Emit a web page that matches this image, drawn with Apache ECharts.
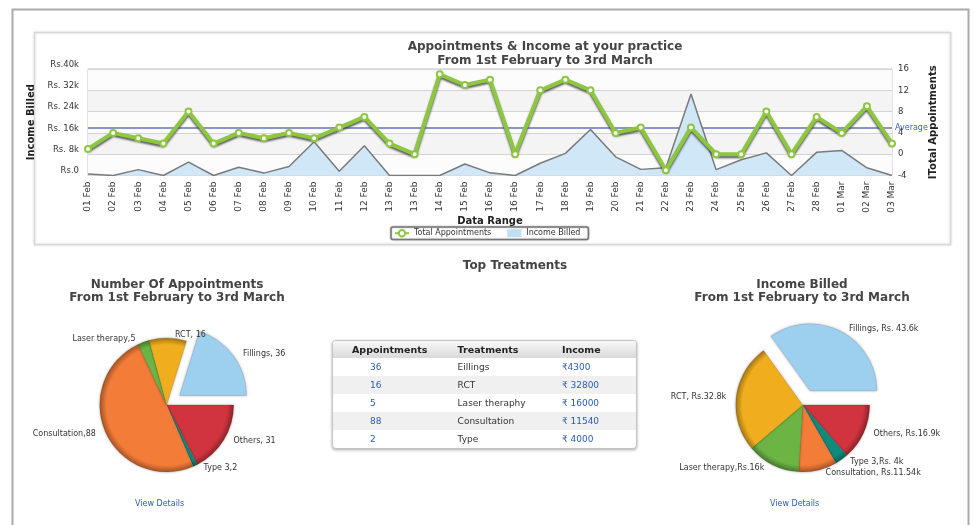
<!DOCTYPE html>
<html>
<head>
<meta charset="utf-8">
<script src="https://cdn.jsdelivr.net/npm/echarts@6/dist/echarts.min.js"></script>
<style>
html,body{margin:0;padding:0;background:#fff;}
#chart{position:absolute;left:0;top:0;width:974px;height:525px;}
#tbl{position:absolute;left:332px;top:340px;width:305px;border:1px solid #c4c4c4;border-radius:4px;box-shadow:0 1px 3px rgba(0,0,0,0.35);font-family:'DejaVu Sans','Noto Sans',sans-serif;font-size:9px;border-collapse:separate;border-spacing:0;overflow:hidden;background:#fff;}
#tbl th{height:17px;padding:0;text-align:left;font-weight:bold;font-size:9.5px;color:#222;background:linear-gradient(#f8f8f8,#d9d9d9);}
#tbl td{height:18px;padding:0;color:#333;}
#tbl tr.alt td{background:#f0f0f0;}
#tbl .c1{width:110px;} #tbl .c2{width:105px;} #tbl .c3{width:90px;}
#tbl th.c1{padding-left:19px;width:91px;}
#tbl td.c1{padding-left:37px;width:73px;color:#2a5db0;}
#tbl .c2{padding-left:15px;width:90px;}
#tbl .c3{padding-left:15px;width:75px;}
#tbl td.c3{color:#2a5db0;}
</style>
</head>
<body>
<div id="chart"></div>
<table id="tbl"><thead><tr><th class="c1">Appointments</th><th class="c2">Treatments</th><th class="c3">Income</th></tr></thead><tbody id="tbody"></tbody></table>
<script>
// ---- data ----
const dates = ['01 Feb','02 Feb','03 Feb','04 Feb','05 Feb','06 Feb','07 Feb','08 Feb','09 Feb','10 Feb','11 Feb','12 Feb','13 Feb','13 Feb','14 Feb','15 Feb','16 Feb','16 Feb','17 Feb','18 Feb','19 Feb','20 Feb','21 Feb','22 Feb','23 Feb','24 Feb','25 Feb','26 Feb','27 Feb','28 Feb','01 Mar','02 Mar','03 Mar'];
const totalAppointments = [1,4,3,2,8,2,4,3,4,3,5,7,2,0,15,13,14,0,12,14,12,4,5,-3,5,0,0,8,0,7,4,9,2];
const incomeBilled = [600,0,2200,0,5000,0,3100,900,3400,12700,1600,11200,0,0,0,4300,1000,0,4600,8300,17300,7000,2300,2900,30600,2200,5900,8500,0,8700,9400,2900,0];
const averageAppointments = 5;
const leftTickLabels = ['Rs.0','Rs. 8k','Rs. 16k','Rs. 24k','Rs. 32k','Rs.40k'];

const pieNames = ['Others','Type 3','Consultation','Laser therapy','RCT','Fillings'];
const pieColors = ['#d1343e','#108a7b','#f27c38','#6cb544','#f0ad1e','#9dd0ef'];
const apptValues = [31,2,88,5,16,36];
const apptLabels = ['Others, 31','Type 3,2','Consultation,88','Laser therapy,5','RCT, 16','Fillings, 36'];
const incomeValues = [16900,4000,11540,16000,32800,43600];
const incomeLabels = ['Others, Rs.16.9k','Type 3,Rs. 4k','Consultation, Rs.11.54k','Laser therapy,Rs.16k','RCT, Rs.32.8k','Fillings, Rs. 43.6k'];

const tblAppointments = [36,16,5,88,2];
const tblTreatments = ['Eillings','RCT','Laser theraphy','Consultation','Type'];
const tblIncome = ['\u20B94300','\u20B9 32800','\u20B9 16000','\u20B9 11540','\u20B9 4000'];

// ---- table ----
const tb = document.getElementById('tbody');
tblAppointments.forEach((a,i)=>{
  const tr = document.createElement('tr');
  if(i%2===1) tr.className='alt';
  [['c1',a],['c2',tblTreatments[i]],['c3',tblIncome[i]]].forEach(([c,t])=>{
    const td=document.createElement('td'); td.className=c; td.textContent=t; tr.appendChild(td);
  });
  tb.appendChild(tr);
});

// ---- helpers ----
const FONT = "'DejaVu Sans','Noto Sans',sans-serif";
function shade(hex,f){const n=parseInt(hex.slice(1),16);return 'rgb('+Math.round(((n>>16)&255)*f)+','+Math.round(((n>>8)&255)*f)+','+Math.round((n&255)*f)+')';}
function pieData(values,labels,cx,cy,r,selName,offset){
  const total=values.reduce((a,b)=>a+b,0); let acc=0;
  return pieNames.map((n,i)=>{
    const sweep=values[i]/total*2*Math.PI; const mid=acc+sweep/2; acc+=sweep;
    const sel=n===selName;
    const ox=sel?offset*Math.cos(mid):0, oy=sel?offset*Math.sin(mid):0;
    return {name:n,value:values[i],selected:sel,label:{formatter:labels[i]},
      itemStyle:{color:{type:'radial',x:cx+ox,y:cy+oy,r:r,global:true,colorStops:[{offset:0,color:pieColors[i]},{offset:0.9,color:pieColors[i]},{offset:1,color:shade(pieColors[i],0.68)}]}}};
  });
}
const PR=67;
const pieBase = {type:'pie',radius:PR,startAngle:0,clockwise:true,selectedMode:'single',selectedOffset:16,
  avoidLabelOverlap:true,emphasis:{disabled:true},
  label:{position:'outside',fontSize:8,color:'#333',fontFamily:FONT},
  labelLine:{show:false,length:3,length2:2},
  itemStyle:{shadowColor:'rgba(0,0,0,0.3)',shadowBlur:3,borderColor:'rgba(0,0,0,0.12)',borderWidth:0.8}};

const chart = echarts.init(document.getElementById('chart'),null,{renderer:'canvas'});
chart.setOption({
  animation:false,
  textStyle:{fontFamily:FONT},
  title:[
    {text:'Appointments & Income at your practice\nFrom 1st February to 3rd March',left:540,top:35,textAlign:'center',
     textStyle:{fontSize:12,fontWeight:'bold',color:'#444',lineHeight:14,fontFamily:FONT}},
    {text:'Number Of Appointments\nFrom 1st February to 3rd March',left:172,top:273,textAlign:'center',
     textStyle:{fontSize:12,fontWeight:'bold',color:'#444',lineHeight:13.5,fontFamily:FONT}},
    {text:'Income Billed\nFrom 1st February to 3rd March',left:797,top:273,textAlign:'center',
     textStyle:{fontSize:12,fontWeight:'bold',color:'#444',lineHeight:13.5,fontFamily:FONT}},
    {text:'Top Treatments',left:510,top:255,textAlign:'center',
     textStyle:{fontSize:12,fontWeight:'bold',color:'#444',fontFamily:FONT}}
  ],
  graphic:[
    {type:'rect',z:-10,shape:{x:12.5,y:9.5,width:956,height:530},style:{fill:'#fff',stroke:'#aaa',lineWidth:2}},
    {type:'rect',z:-9,shape:{x:34.5,y:32.5,width:916,height:212},style:{fill:'#fff',stroke:'#d8d8d8',lineWidth:1.5,shadowColor:'rgba(0,0,0,0.12)',shadowBlur:3}},
    {type:'text',left:135,top:500,style:{text:'View Details',fill:'#2a5db0',fontSize:8,fontFamily:FONT}},
    {type:'text',left:770,top:500,style:{text:'View Details',fill:'#2a5db0',fontSize:8,fontFamily:FONT}}
  ],
  legend:{left:391,top:227,itemWidth:14,itemHeight:8,itemGap:16,padding:[2,8,2,3],
    borderColor:'#777',borderWidth:1.5,borderRadius:2,backgroundColor:'#fff',
    shadowColor:'rgba(0,0,0,0.3)',shadowBlur:2,
    textStyle:{fontSize:8,color:'#333',fontFamily:FONT},
    data:[{name:'Total Appointments'},{name:'Income Billed',icon:'rect'}]},
  grid:{left:88,right:82,top:69,bottom:349.5,show:true,borderColor:'#c4c4c4',borderWidth:1,backgroundColor:'#fcfcfc'},
  xAxis:{type:'category',data:dates,boundaryGap:false,
    name:'Data Range',nameLocation:'middle',nameGap:40,
    nameTextStyle:{fontSize:10,fontWeight:'bold',color:'#222',fontFamily:FONT},
    axisLine:{show:false},axisTick:{show:false},
    axisLabel:{rotate:90,interval:0,fontSize:9,color:'#333',margin:6,fontFamily:FONT},
    splitLine:{show:false}},
  yAxis:[
    {type:'value',min:0,max:40000,interval:8000,position:'left',
     name:'Income Billed',nameLocation:'middle',nameRotate:90,nameGap:46,
     nameTextStyle:{fontSize:10,fontWeight:'bold',color:'#222',fontFamily:FONT},
     axisLine:{show:false},axisTick:{show:false},
     axisLabel:{fontSize:8.5,color:'#333',margin:9,verticalAlign:'bottom',fontFamily:FONT,
       formatter:(v)=>leftTickLabels[Math.round(v/8000)]},
     splitLine:{lineStyle:{color:'#d4d4d4',width:1}},
     splitArea:{show:true,areaStyle:{color:['#fcfcfc','#f4f4f4']}}},
    {type:'value',min:-4,max:16,interval:4,position:'right',
     name:'ITotal Appointments',nameLocation:'middle',nameRotate:90,nameGap:36,
     nameTextStyle:{fontSize:10,fontWeight:'bold',color:'#222',fontFamily:FONT},
     axisLine:{show:false},axisTick:{show:false},
     axisLabel:{fontSize:8.5,color:'#333',margin:6,fontFamily:FONT},
     splitLine:{show:false}}
  ],
  series:[
    {name:'Income Billed',type:'line',yAxisIndex:0,data:incomeBilled,symbol:'none',z:2,
     itemStyle:{color:'#bfe0f4'},
     lineStyle:{color:'#7a7a7a',width:1.5},
     areaStyle:{color:'#cfe7f6',opacity:1}},
    {name:'Total Appointments',type:'line',yAxisIndex:1,data:totalAppointments,z:4,
     symbol:'circle',symbolSize:6,
     itemStyle:{color:'#ffffff',borderColor:'#8dc63f',borderWidth:2},
     lineStyle:{color:'#8dc63f',width:4,shadowColor:'rgba(60,60,60,0.8)',shadowBlur:2,shadowOffsetY:2},
     markLine:{silent:true,symbol:'none',z:1,
       lineStyle:{color:'#8b94c9',width:2,type:'solid'},
       label:{position:'end',formatter:'Average',color:'#3a5fb0',fontSize:8,distance:3,fontFamily:FONT},
       data:[{yAxis:averageAppointments}]}},
    Object.assign({},pieBase,{name:'Number Of Appointments',center:[166.7,405],
      data:pieData(apptValues,apptLabels,166.7,405,PR,'Fillings',16)}),
    Object.assign({},pieBase,{name:'Income Billed Pie',center:[802.7,405],
      data:pieData(incomeValues,incomeLabels,802.7,405,PR,'Fillings',16)})
  ]
});
</script>
</body>
</html>
